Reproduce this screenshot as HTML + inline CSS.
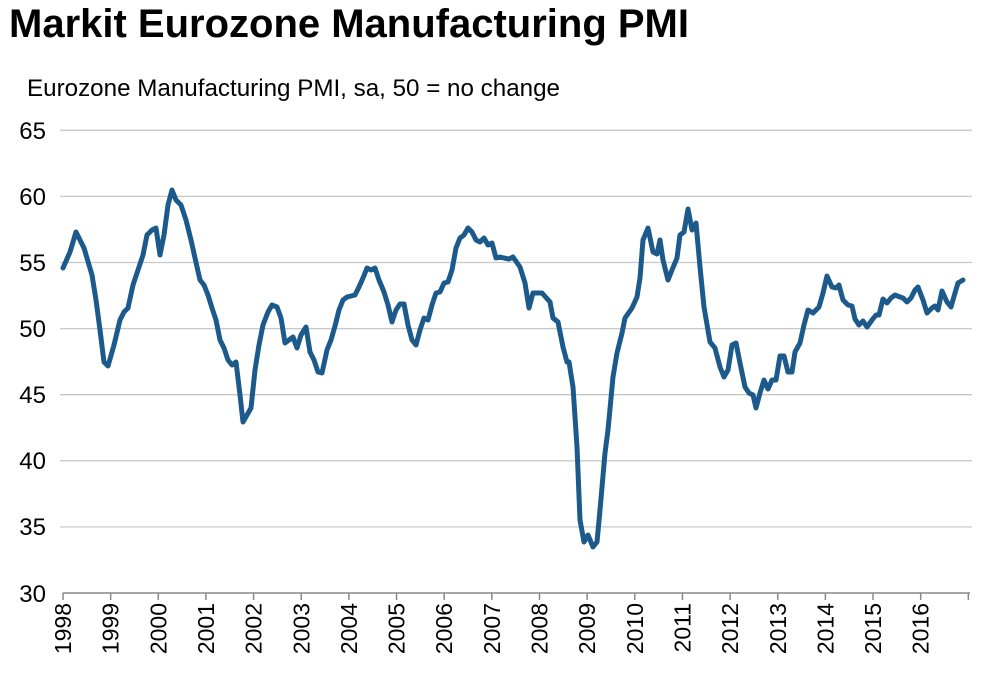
<!DOCTYPE html>
<html><head><style>
body{margin:0;background:#fff;width:1000px;height:674px;overflow:hidden;font-family:"Liberation Sans",Arial,sans-serif}
</style></head><body>
<svg width="1000" height="674" xmlns="http://www.w3.org/2000/svg" font-family="Liberation Sans, Arial, sans-serif">
<text x="9" y="37" font-size="40" font-weight="bold" fill="#000" textLength="680" lengthAdjust="spacingAndGlyphs">Markit Eurozone Manufacturing PMI</text>
<text x="27" y="96" font-size="24" fill="#000" textLength="533" lengthAdjust="spacingAndGlyphs">Eurozone Manufacturing PMI, sa, 50 = no change</text>
<g stroke="#c8c8c8" stroke-width="1.3">
<line x1="60" x2="972" y1="130.3" y2="130.3"/><line x1="60" x2="972" y1="196.4" y2="196.4"/>
<line x1="60" x2="972" y1="262.5" y2="262.5"/><line x1="60" x2="972" y1="328.6" y2="328.6"/>
<line x1="60" x2="972" y1="394.7" y2="394.7"/><line x1="60" x2="972" y1="460.8" y2="460.8"/>
<line x1="60" x2="972" y1="526.9" y2="526.9"/>
</g>
<g font-size="24" text-anchor="end" fill="#000">
<text x="46" y="139">65</text><text x="46" y="205">60</text><text x="46" y="271">55</text>
<text x="46" y="337">50</text><text x="46" y="403">45</text><text x="46" y="469">40</text>
<text x="46" y="535">35</text><text x="46" y="602">30</text>
</g>
<line x1="63" x2="970" y1="593" y2="593" stroke="#888" stroke-width="1.5"/>
<g stroke="#888" stroke-width="1.5" id="ticks"></g>
<g font-size="23" fill="#000" id="yrs"></g>
<polyline fill="none" stroke="#1d5a8c" stroke-width="5" stroke-linejoin="round" stroke-linecap="round" points="
63,268 70,252 76,232 84,248 92,275 96,300 100,330 104,362 108,366 114,345 120,320 124,312 128,308 133,285 138,270 143,255 147,235 152,230 156,228 160,255 164,235 168,205 172,190 176,200 181,205 186,220 191,240 195,258 200,280 204,285 208,295 212,308 216,320 220,340 224,348 228,360 232,365 236,362 240,395 243,422 247,415 251,408 255,370 259,345 263,325 268,312 272,305 277,307 281,318 285,343 289,340 293,337 297,348 301,335 306,327 310,352 314,360 318,372 322,373 327,350 331,340 335,326 339,310 343,300 347,297 351,296 355,295 359,287 363,278 367,268 371,270 375,268 379,280 384,292 388,305 392,322 396,310 400,304 404,304 408,325 412,340 416,345 420,330 424,318 428,320 432,305 436,293 440,292 444,283 448,282 452,270 456,248 460,238 464,235 468,228 472,232 476,240 480,242 484,238 488,245 492,243 496,258 500,257 504,258 509,259 513,257 520,267 525,283 529,308 533,293 542,293 550,302 553,318 558,322 563,347 567,362 569,362 573,387 577,447 580,520 584,542 588,535 593,547 597,542 600,510 605,453 608,430 613,377 617,353 622,333 625,318 632,308 637,297 640,278 643,240 648,228 653,252 657,254 660,240 663,260 668,280 672,270 677,258 680,235 684,232 688,209 692,230 696,223 700,267 704,307 710,342 715,348 720,367 724,377 728,370 732,345 736,343 740,363 745,387 749,393 753,395 756,408 760,393 764,380 768,389 772,380 776,380 780,356 784,356 788,372 792,372 795,352 800,343 804,325 808,310 813,313 819,307 823,293 827,276 832,287 836,288 839,285 843,300 848,305 852,306 855,319 859,325 863,321 867,327 872,320 876,315 879,315 883,299 887,303 891,298 895,295 900,297 903,298 907,302 911,298 915,290 918,287 923,300 927,313 932,308 935,306 938,310 942,291 947,302 951,307 955,293 958,283 963,280"/>
<script>
var t=document.getElementById('ticks'),y=document.getElementById('yrs'),ns='http://www.w3.org/2000/svg';
for(var i=0;i<=19;i++){var x=63+i*47.65;
var l=document.createElementNS(ns,'line');l.setAttribute('x1',x);l.setAttribute('x2',x);l.setAttribute('y1',593);l.setAttribute('y2',600);t.appendChild(l);
if(i<19){var tx=document.createElementNS(ns,'text');tx.setAttribute('transform','translate('+(x+8)+',603) rotate(-90)');tx.setAttribute('text-anchor','end');tx.textContent=1998+i;y.appendChild(tx);}}
</script>
</svg>
</body></html>
